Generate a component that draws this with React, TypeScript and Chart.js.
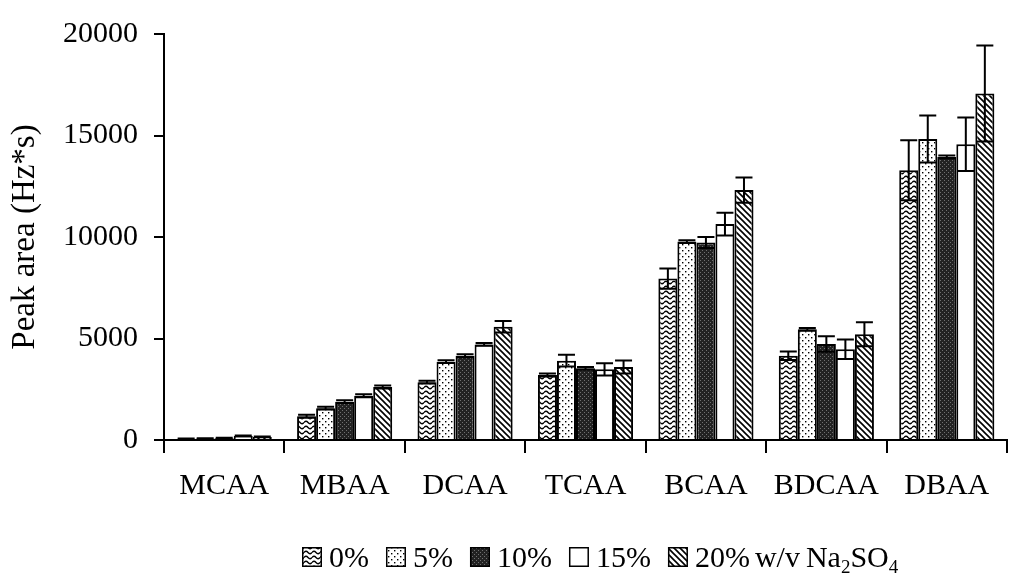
import React, { useEffect, useRef } from 'react';
import { Chart, registerables } from 'chart.js';

Chart.register(...registerables);

// Haloacetic acids measured at each Na2SO4 concentration
const categories = ['MCAA', 'MBAA', 'DCAA', 'TCAA', 'BCAA', 'BDCAA', 'DBAA'];
const seriesLabels = ['0%', '5%', '10%', '15%', '20%'];

// Peak areas (Hz*s)
const area0 = [60, 1170, 2850, 3200, 7950, 4150, 13290];
const area5 = [70, 1570, 3860, 3910, 9775, 5450, 14830];
const area10 = [90, 1890, 4150, 3530, 9730, 4730, 13940];
const area15 = [200, 2180, 4710, 3480, 10640, 4470, 14570];
const area20 = [150, 2610, 5580, 3600, 12310, 5210, 17070];

// Standard deviations
const err0 = [20, 70, 70, 70, 500, 210, 1475];
const err5 = [20, 70, 70, 290, 70, 70, 1155];
const err10 = [20, 70, 70, 70, 270, 380, 70];
const err15 = [20, 70, 70, 300, 560, 480, 1315];
const err20 = [20, 70, 280, 320, 625, 590, 2360];

const yTicks = [0, 5000, 10000, 15000, 20000];
const yTitle = 'Peak area (Hz*s)';

const FONT = '"Liberation Serif", "Times New Roman", serif';

type Kind = 'wave' | 'dots' | 'dark' | 'blank' | 'diag';
const kinds: Kind[] = ['wave', 'dots', 'dark', 'blank', 'diag'];

function makePattern(kind: Kind): CanvasPattern | string {
  if (kind === 'blank') return '#ffffff';
  const c = document.createElement('canvas');
  const g = c.getContext('2d')!;
  if (kind === 'wave') {
    c.width = 8; c.height = 5;
    g.fillStyle = '#fff'; g.fillRect(0, 0, 8, 5);
    g.strokeStyle = '#000'; g.lineWidth = 1.3;
    g.beginPath();
    g.moveTo(0, 2.5);
    g.quadraticCurveTo(2, 0, 4, 2.5);
    g.quadraticCurveTo(6, 5, 8, 2.5);
    g.stroke();
  } else if (kind === 'dots') {
    c.width = 6; c.height = 6;
    g.fillStyle = '#fff'; g.fillRect(0, 0, 6, 6);
    g.fillStyle = '#000';
    g.fillRect(1, 1, 1.4, 1.4);
    g.fillRect(4, 4, 1.4, 1.4);
  } else if (kind === 'dark') {
    c.width = 4; c.height = 4;
    g.fillStyle = '#222222'; g.fillRect(0, 0, 4, 4);
    g.fillStyle = '#707070';
    g.fillRect(0, 0, 1, 1);
    g.fillRect(2, 2, 1, 1);
  } else {
    c.width = 6; c.height = 6;
    g.fillStyle = '#fff'; g.fillRect(0, 0, 6, 6);
    g.strokeStyle = '#000'; g.lineWidth = 1.6;
    g.beginPath();
    g.moveTo(-1, -1); g.lineTo(7, 7);
    g.moveTo(-1, 5); g.lineTo(1, 7);
    g.moveTo(5, -1); g.lineTo(7, 1);
    g.stroke();
  }
  return g.createPattern(c, 'repeat')!;
}

const errorSets = [err0, err5, err10, err15, err20];

const errorBarPlugin = {
  id: 'errorBars',
  afterDatasetsDraw(chart: any) {
    const { ctx } = chart;
    const y = chart.scales.y;
    ctx.save();
    ctx.strokeStyle = '#000';
    ctx.lineWidth = 2;
    chart.data.datasets.forEach((ds: any, di: number) => {
      const meta = chart.getDatasetMeta(di);
      meta.data.forEach((bar: any, i: number) => {
        const v = ds.data[i];
        const e = errorSets[di][i];
        const top = y.getPixelForValue(v + e);
        const bot = y.getPixelForValue(Math.max(0, v - e));
        const half = 8.5;
        ctx.beginPath();
        ctx.moveTo(bar.x, top); ctx.lineTo(bar.x, bot);
        ctx.moveTo(bar.x - half, top); ctx.lineTo(bar.x + half, top);
        ctx.moveTo(bar.x - half, bot); ctx.lineTo(bar.x + half, bot);
        ctx.stroke();
      });
    });
    ctx.restore();
  },
};

const legendPlugin = {
  id: 'patternLegend',
  afterDraw(chart: any) {
    const { ctx } = chart;
    const fills = chart.data.datasets.map((d: any) => d.backgroundColor);
    ctx.save();
    ctx.font = `30px ${FONT}`;
    ctx.textBaseline = 'alphabetic';
    ctx.textAlign = 'left';
    const base = 567;
    let x = 302;
    seriesLabels.forEach((lab, i) => {
      ctx.fillStyle = fills[i];
      ctx.fillRect(x, 547, 20, 20);
      ctx.strokeStyle = '#000';
      ctx.lineWidth = 1.5;
      ctx.strokeRect(x + 0.75, 547.75, 18.5, 18.5);
      x += 27;
      ctx.fillStyle = '#000';
      ctx.font = `30px ${FONT}`;
      ctx.fillText(lab, x, base);
      x += ctx.measureText(lab).width;
      if (i < seriesLabels.length - 1) {
        x += 17;
      } else {
        x += 5;
        ctx.fillText('w/v', x, base);
        x += ctx.measureText('w/v').width + 6;
        const parts: [string, boolean][] = [['Na', false], ['2', true], ['SO', false], ['4', true]];
        parts.forEach(([t, sub]) => {
          ctx.font = sub ? `19px ${FONT}` : `30px ${FONT}`;
          ctx.fillText(t, x, sub ? base + 6 : base);
          x += ctx.measureText(t).width;
        });
      }
    });
    ctx.restore();
  },
};

export default function App() {
  const ref = useRef<HTMLCanvasElement>(null);

  useEffect(() => {
    document.body.style.margin = '0';
    const series = [area0, area5, area10, area15, area20];
    const chart = new Chart(ref.current!, {
      type: 'bar',
      data: {
        labels: categories,
        datasets: series.map((data, i) => ({
          label: seriesLabels[i],
          data,
          backgroundColor: makePattern(kinds[i]) as any,
          borderColor: '#000',
          borderWidth: 2,
          categoryPercentage: 0.79,
          barPercentage: 1,
        })),
      },
      options: {
        responsive: false,
        animation: false,
        layout: { padding: { top: 24, right: 2, left: 0, bottom: 0 } },
        plugins: {
          legend: { display: false },
          tooltip: { enabled: false },
        },
        scales: {
          x: {
            afterFit: (s: any) => { s.height = 133; },
            grid: {
              offset: true,
              drawOnChartArea: false,
              drawTicks: true,
              tickLength: 13,
              color: '#000',
              lineWidth: 2,
            },
            border: { display: true, color: '#000', width: 2 },
            ticks: {
              color: '#000',
              padding: 15,
              font: { family: FONT, size: 30 },
            },
          },
          y: {
            min: 0,
            max: 20000,
            afterFit: (s: any) => { s.width = 164; },
            afterBuildTicks: (s: any) => { s.ticks = yTicks.map((v) => ({ value: v })); },
            grid: {
              drawOnChartArea: false,
              drawTicks: true,
              tickLength: 10,
              color: '#000',
              lineWidth: 2,
            },
            border: { display: true, color: '#000', width: 2 },
            ticks: {
              color: '#000',
              padding: 16,
              font: { family: FONT, size: 30 },
              callback: (v: any) => String(v),
            },
            title: {
              display: true,
              text: yTitle,
              color: '#000',
              font: { family: FONT, size: 33 },
              padding: { top: 6, bottom: 0 },
            },
          },
        },
      },
      plugins: [errorBarPlugin, legendPlugin],
    });
    return () => chart.destroy();
  }, []);

  return (
    <div style={{ position: 'fixed', left: 0, top: 0, width: 1009, height: 573, background: '#fff' }}>
      <canvas ref={ref} width={1009} height={573} />
    </div>
  );
}
